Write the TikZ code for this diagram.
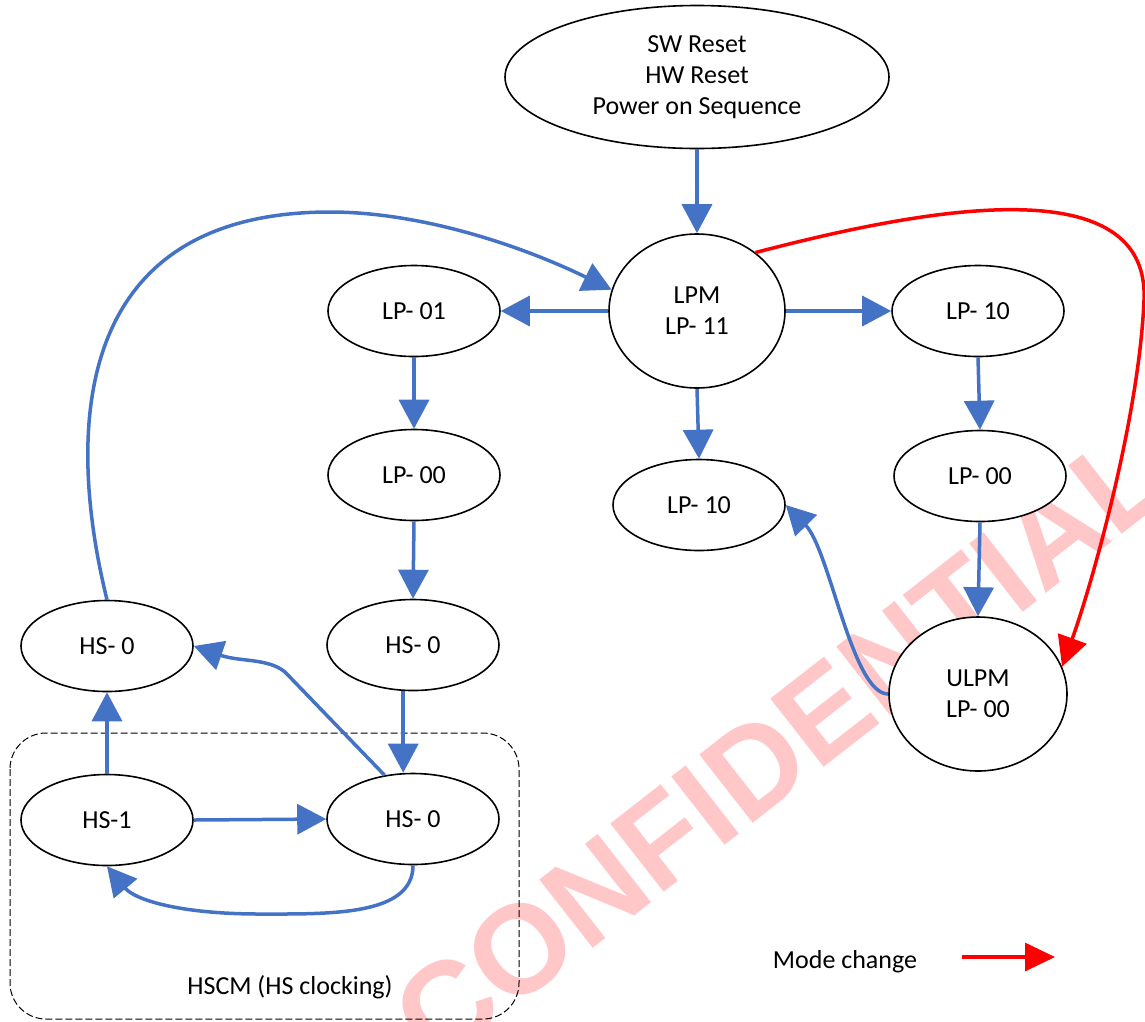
\documentclass[tikz,border=0pt]{standalone}
\usepackage{fontspec}
\setmainfont{Carlito}
\newfontfamily\markfont{Liberation Sans}
\usetikzlibrary{shapes.geometric,arrows.meta}
\definecolor{lineblue}{HTML}{4472C4}
\begin{document}
\begin{tikzpicture}[x=1pt,y=-1pt,
  state/.style={ellipse,draw,line width=1.6pt,fill=white,inner sep=0pt,minimum width=172pt,minimum height=91pt,align=center,font=\fontsize{26}{31}\selectfont},
  flow/.style={lineblue,line width=3.5pt,-{Triangle[length=29pt,width=30pt]}},
  mode/.style={red,line width=3.5pt,-{Triangle[length=30pt,width=30pt]}}]
\useasboundingbox (0,0) rectangle (1145,1021);
\fill[white] (0,0) rectangle (1145,1021);
\node[rotate=38,text=red!22,font=\markfont\bfseries\fontsize{126}{126}\selectfont] (mark) at (780,747) {CONFIDENTIAL};
\draw[line width=1pt,dash pattern=on 7pt off 3pt,rounded corners=36pt] (10,733) rectangle (519,1019);
\node[font=\fontsize{26}{31}\selectfont] (hscm) at (290,987) {HSCM (HS clocking)};
\node[state,minimum width=384pt,minimum height=143pt] (reset) at (697,77) {SW Reset\\HW Reset\\Power on Sequence};
\node[state,minimum width=176pt,minimum height=154pt] (lpm) at (697,311) {LPM\\LP- 11};
\node[state] (lp01) at (414,311) {LP- 01};
\node[state] (lp10r) at (978,311) {LP- 10};
\node[state] (lp00l) at (414,475) {LP- 00};
\node[state] (lp10m) at (699,505) {LP- 10};
\node[state] (lp00r) at (980,476) {LP- 00};
\node[state,minimum width=178pt,minimum height=154pt] (ulpm) at (978,694) {ULPM\\LP- 00};
\node[state] (hsup) at (107,646) {HS- 0};
\node[state] (hsmid) at (413,645) {HS- 0};
\node[state] (hsone) at (107,820) {HS-1};
\node[state] (hszero) at (413,819) {HS- 0};
\draw[flow] (reset.south) -- (lpm.north);
\draw[flow] (lpm.west) -- (lp01.east);
\draw[flow] (lpm.east) -- (lp10r.west);
\draw[flow] (lpm.south) -- (lp10m.north);
\draw[flow] (lp01.south) -- (lp00l.north);
\draw[flow] (lp00l.south) -- (hsmid.north);
\draw[flow] (hsmid.258) -- (hsmid.258 |- hszero.north);
\draw[flow] (lp10r.south) -- (lp00r.north);
\draw[flow] (lp00r.south) -- (ulpm.north);
\draw[flow] (ulpm.west) .. controls (852,694) and (830,550) .. (lp10m.east);
\draw[mode] (lpm.45) .. controls (900,215) and (1150,160) .. (1144,300) .. controls (1139,420) and (1090,590) .. (ulpm.18);
\draw[flow] (hsup.north) .. controls (70,450) and (60,212) .. (330,212) .. controls (420,212) and (520,245) .. (lpm.166);
\draw[flow] (hsone.north) -- (hsup.south);
\draw[flow] (hsone.east) -- (hszero.west);
\draw[flow] (hszero.south) .. controls (413,916) and (330,914) .. (260,914) .. controls (180,914) and (135,900) .. (hsone.south);
\draw[flow] (hszero.123) -- (285,672) .. controls (268,658) and (240,662) .. (hsup.east);
\node[font=\fontsize{26}{31}\selectfont] (modetext) at (845,962) {Mode change};
\coordinate (modeA) at (962,957);
\coordinate (modeB) at (1055,957);
\draw[mode,-{Triangle[length=30pt,width=28pt]}] (modeA) -- (modeB);
\end{tikzpicture}
\end{document}
